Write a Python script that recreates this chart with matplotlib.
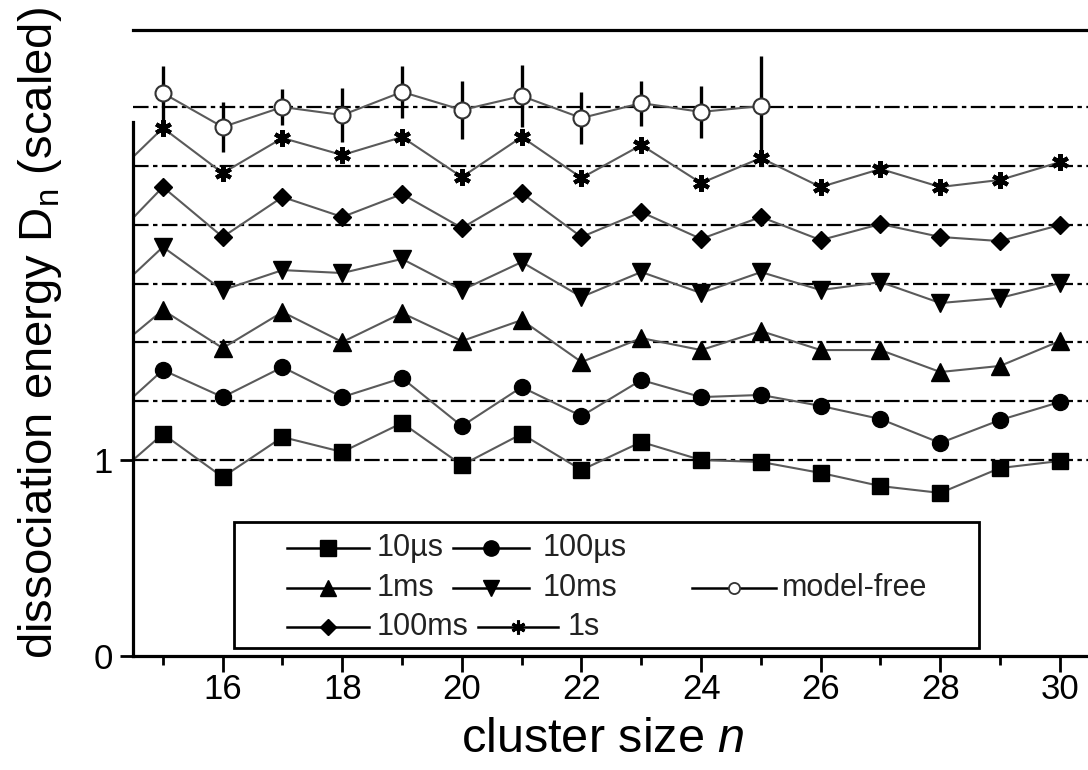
import matplotlib
matplotlib.use("Agg")
import matplotlib.pyplot as plt
from matplotlib.lines import Line2D
from matplotlib.patches import Rectangle

plt.rcParams['font.family'] = ['Liberation Sans', 'DejaVu Sans']
plt.rcParams['mathtext.fontset'] = 'custom'
plt.rcParams['mathtext.rm'] = 'Liberation Sans'
plt.rcParams['mathtext.it'] = 'Liberation Sans:italic'

# ---------------- data ----------------
n = list(range(14, 31))
d_10us = [0.867, 1.133, 0.913, 1.117, 1.041, 1.189, 0.974, 1.133, 0.949, 1.092, 1.000, 0.990, 0.934, 0.867, 0.832, 0.959, 0.995]
d_100us = [0.883, 1.159, 1.021, 1.174, 1.021, 1.118, 0.873, 1.072, 0.924, 1.108, 1.021, 1.032, 0.976, 0.909, 0.787, 0.904, 0.996]
d_1ms = [0.911, 1.165, 0.971, 1.155, 1.002, 1.150, 1.007, 1.114, 0.900, 1.022, 0.961, 1.058, 0.961, 0.961, 0.849, 0.880, 1.007]
d_10ms = [0.901, 1.187, 0.967, 1.069, 1.054, 1.126, 0.967, 1.110, 0.932, 1.059, 0.952, 1.059, 0.967, 1.008, 0.901, 0.927, 1.003]
d_100ms = [0.877, 1.193, 0.938, 1.142, 1.040, 1.157, 0.984, 1.162, 0.938, 1.065, 0.928, 1.040, 0.922, 1.004, 0.938, 0.917, 0.999]
d_1s = [0.898, 1.194, 0.964, 1.143, 1.056, 1.148, 0.944, 1.148, 0.939, 1.107, 0.913, 1.041, 0.893, 0.985, 0.893, 0.929, 1.020]

n_mf = list(range(15, 26))
d_mf = [1.072, 0.899, 1.001, 0.960, 1.078, 0.986, 1.057, 0.945, 1.021, 0.976, 1.006]
err_mf = [0.140, 0.128, 0.094, 0.138, 0.133, 0.148, 0.158, 0.133, 0.115, 0.133, 0.255]

labels = ['10µs', '100µs', '1ms', '10ms', '100ms', '1s', 'model-free']
offset_step = 0.3   # vertical shift between successive series
x_ticks_major = [16, 18, 20, 22, 24, 26, 28, 30]
x_ticks_minor = [15, 17, 19, 21, 23, 25, 27, 29]
y_ticks = [0, 1]

# ---------------- figure ----------------
W, H = 1088, 770
fig = plt.figure(figsize=(W / 100, H / 100), dpi=100)
ax = fig.add_axes([133 / W, 1 - 656 / H, (W - 133) / W, (656 - 30) / H])
ax.set_xlim(14.5, 30.47)
ax.set_ylim(0, 3.194)

line_col = '#5a5a5a'
series = [d_10us, d_100us, d_1ms, d_10ms, d_100ms, d_1s]
mstyles = [
    dict(marker='s', ms=11.5),
    dict(marker='o', ms=11.5),
    dict(marker='^', ms=12.5),
    dict(marker='v', ms=12.5),
    dict(marker='D', ms=9.0),
    dict(marker=(6, 2, 0), ms=12, mew=3.0),
]

# reference dash-dot levels
for k in range(7):
    ax.axhline(1 + k * offset_step, color='black', lw=1.6,
               linestyle=(0, (7, 2, 2, 2)), zorder=1)

for k, (vals, st) in enumerate(zip(series, mstyles)):
    yv = [v + k * offset_step for v in vals]
    ax.plot(n, yv, color=line_col, lw=1.5, zorder=2)
    kw = dict(mec='black', mfc='black', mew=st.get('mew', 1.0))
    ax.plot(n, yv, linestyle='none', marker=st['marker'], ms=st['ms'],
            zorder=3, **kw)

# model-free with error bars
k = 6
yv = [v + k * offset_step for v in d_mf]
ax.errorbar(n_mf, yv, yerr=err_mf, fmt='none', ecolor='black', elinewidth=2.4,
            capsize=0, zorder=2)
ax.plot(n_mf, yv, color=line_col, lw=1.5, zorder=2)
ax.plot(n_mf, yv, linestyle='none', marker='o', ms=11.5, mfc='white',
        mec='#333333', mew=1.5, zorder=3)

# spines / ticks
ax.spines['right'].set_visible(False)
ax.spines['left'].set_bounds(0, 2.725)
for s in ['left', 'bottom', 'top']:
    ax.spines[s].set_linewidth(2.3)

ax.set_xticks(x_ticks_major)
ax.set_xticks(x_ticks_minor, minor=True)
ax.set_yticks(y_ticks)
ax.tick_params(axis='x', which='major', direction='out', length=11.5, width=2.0,
               labelsize=25, pad=1)
ax.tick_params(axis='x', which='minor', direction='out', length=6.5, width=2.0)
ax.tick_params(axis='y', which='major', direction='out', length=9.5, width=2.0,
               labelsize=25, pad=5)
ax.tick_params(top=False, right=False)

ax.set_xlabel('cluster size $n$', fontsize=35)
ax.xaxis.set_label_coords((603 - 133) / (W - 133), (656 - 740) / (656 - 30))
ax.xaxis.label.set_va('center')
ax.set_ylabel('dissociation energy D$_\\mathrm{n}$ (scaled)', fontsize=34,
              va='center')
ax.yaxis.set_label_coords((40 - 133) / (W - 133), (656 - 333) / (656 - 30))

# ---------------- legend (drawn by hand to mimic the original layout) ----------------
def fx(px):
    return px / W


def fy(py):
    return 1 - py / H


fig.add_artist(Rectangle((fx(234), fy(648)), fx(979) - fx(234), fy(522) - fy(648),
                         transform=fig.transFigure, fill=False, lw=2.0,
                         edgecolor='black', zorder=5))

leg_entries = [
    # (label index, x0, x1, row_y, marker kwargs, text x)
    (0, 287, 369, 548, dict(marker='s', ms=11, mfc='black', mec='black'), 377),
    (1, 453, 529, 548, dict(marker='o', ms=11, mfc='black', mec='black'), 543),
    (2, 287, 369, 588, dict(marker='^', ms=12, mfc='black', mec='black'), 377),
    (3, 453, 529, 588, dict(marker='v', ms=12, mfc='black', mec='black'), 543),
    (6, 692, 776, 588, dict(marker='o', ms=8, mfc='white', mec='#333333', mew=1.3), 782),
    (4, 287, 369, 627, dict(marker='D', ms=8.5, mfc='black', mec='black'), 377),
    (5, 478, 558, 627, dict(marker=(6, 2, 0), ms=10, mfc='black', mec='black', mew=2.2), 568),
]
for idx, x0, x1, yy, mk, tx in leg_entries:
    fig.add_artist(Line2D([fx(x0), fx(x1)], [fy(yy), fy(yy)], color='black', lw=1.8,
                          transform=fig.transFigure, zorder=6))
    fig.add_artist(Line2D([fx((x0 + x1) / 2)], [fy(yy)], linestyle='none',
                          transform=fig.transFigure, zorder=7, **mk))
    fig.text(fx(tx), fy(yy), labels[idx], fontsize=22, ha='left', va='center',
             color='#222222', zorder=7)

fig.savefig('out.png', dpi=100)
